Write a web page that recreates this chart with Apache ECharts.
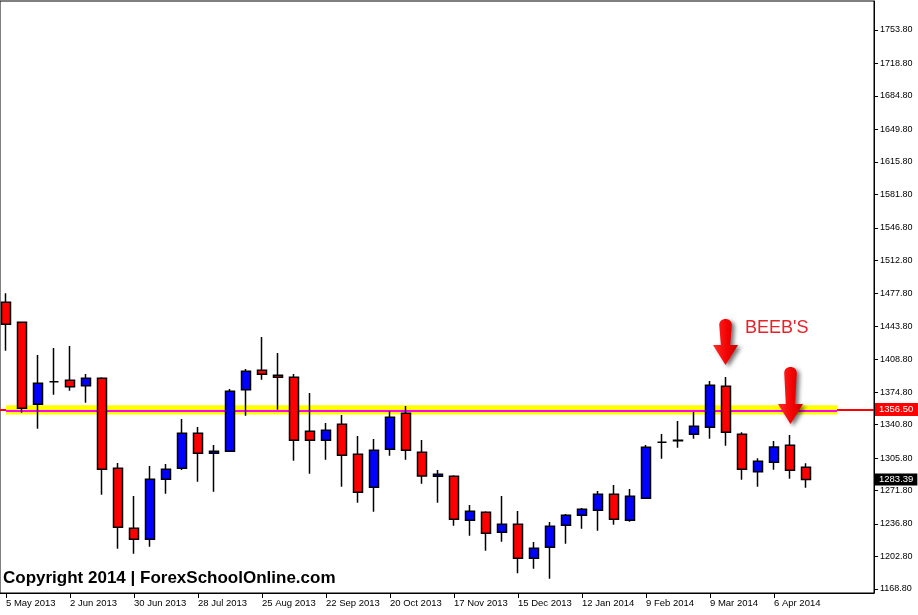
<!DOCTYPE html>
<html><head><meta charset="utf-8">
<script src="https://cdn.jsdelivr.net/npm/echarts@6/dist/echarts.min.js"></script>
<style>html,body{margin:0;padding:0;background:#fff}#c{width:918px;height:615px}</style>
</head><body><div id="c"></div>
<script>
// weekly candles, 5 May 2013 .. 20 Apr 2014 (index = week number)
const opens  = [1468.8,1447.9,1362.1,1385.7,1387.2,1381.6,1389.3,1295.1,1232.3,1220.8,
                1283.6,1295.1,1331.7,1310.8,1312.9,1377.4,1397.7,1392.4,1390.3,1333.8,
                1324.4,1341.2,1309.8,1275.2,1315.0,1352.7,1311.9,1286.7,1286.7,1240.7,
                1249.1,1228.1,1236.5,1200.9,1212.4,1235.5,1245.9,1251.2,1267.9,1240.7,
                1263.7,1322.3,1324.0,1330.7,1338.0,1380.9,1330.7,1291.6,1301.4,1319.2,
                1296.2];
const highs  = [1478.2,1448.5,1413.7,1421.0,1423.1,1393.8,1390.3,1300.7,1266.1,1297.5,
                1299.6,1346.7,1338.3,1319.5,1378.1,1399.0,1432.5,1415.8,1393.8,1373.9,
                1342.5,1350.9,1328.9,1325.8,1355.1,1360.3,1324.7,1293.3,1287.8,1256.7,
                1250.1,1266.1,1250.4,1218.0,1238.9,1247.3,1253.6,1271.4,1277.6,1273.5,
                1319.5,1331.0,1344.6,1354.0,1386.5,1390.7,1332.8,1305.6,1323.7,1330.0,
                1300.3];
const lows   = [1418.2,1353.3,1336.6,1372.1,1376.3,1363.8,1267.5,1211.0,1205.7,1213.1,
                1268.5,1293.3,1281.1,1270.6,1312.5,1350.2,1387.8,1356.4,1303.1,1289.5,
                1304.1,1275.9,1259.1,1249.7,1308.3,1304.1,1279.0,1259.1,1235.0,1224.6,
                1208.9,1218.3,1185.2,1190.0,1179.6,1216.2,1231.9,1229.8,1236.1,1239.2,
                1263.2,1305.2,1316.7,1326.1,1326.1,1318.8,1283.2,1275.9,1293.6,1284.2,
                1274.8];
const closes = [1445.8,1357.9,1384.1,1385.7,1380.5,1389.3,1294.1,1233.4,1220.8,1283.6,
                1294.1,1331.7,1310.8,1312.9,1375.7,1396.6,1393.5,1390.3,1324.4,1324.4,
                1334.9,1308.7,1270.0,1314.0,1348.5,1314.0,1287.1,1288.8,1241.7,1250.1,
                1227.1,1236.5,1200.9,1211.4,1234.4,1245.9,1252.2,1267.9,1241.7,1265.8,
                1317.1,1322.3,1324.5,1339.1,1382.0,1332.8,1294.1,1302.4,1317.4,1293.0,
                1283.39];
const xTickWeeks  = [0,4,8,12,16,20,24,28,32,36,40,44,48];
const xTickLabels = ['5 May 2013','2 Jun 2013','30 Jun 2013','28 Jul 2013','25 Aug 2013','22 Sep 2013',
                     '20 Oct 2013','17 Nov 2013','15 Dec 2013','12 Jan 2014','9 Feb 2014','9 Mar 2014','6 Apr 2014'];
const yTicks = [1168.8,1202.8,1236.8,1271.8,1305.8,1340.8,1374.8,1408.8,1443.8,1477.8,
                1512.8,1546.8,1581.8,1615.8,1649.8,1684.8,1718.8,1753.8];
const levelPrice = 1356.5;
const lastPrice = 1283.39;
const arrowWeeks = [44.97, 49.03];
const arrowPrices = [1427.3, 1371.3];

const candles = opens.map((o, i) => [i, o, closes[i], lows[i], highs[i]]);
const X_MIN = -0.375, X_MAX = 54.25, BAND_END = 51.94;
const arrowPath1 = 'path://M6,6 C6,-2 18,-2 18,6 L16.5,26 L24,26 L12,46 L0,26 L7.5,26 Z';
const arrowPath2 = 'path://M6,6 C6,-2 18,-2 18,6 L16.5,37 L24,37 L12,57 L0,37 L7.5,37 Z';
const FONT = 'Liberation Sans';

const chart = echarts.init(document.getElementById('c'), null, {renderer: 'canvas'});
const arrowStyle = {
  color: new echarts.graphic.LinearGradient(0, 0, 1, 0, [
    {offset: 0, color: '#ff2a2a'}, {offset: 0.6, color: '#f20000'}, {offset: 1, color: '#c00000'}]),
  shadowColor: 'rgba(0,0,0,0.55)', shadowBlur: 4, shadowOffsetX: 3, shadowOffsetY: 2
};
chart.setOption({
  animation: false,
  backgroundColor: '#fff',
  textStyle: {fontFamily: FONT},
  title: [
    {text: "BEEB'S", left: 745, top: 319, padding: 0,
     textStyle: {color: '#e8222a', fontSize: 18, fontWeight: 'normal', fontFamily: FONT}},
    {text: 'Copyright 2014 | ForexSchoolOnline.com', left: 3, top: 570, padding: 0,
     textStyle: {color: '#000', fontSize: 17, fontWeight: 'bold', fontFamily: FONT}}
  ],
  grid: {left: 0, top: 1, right: 44, bottom: 22, show: true, borderColor: '#000', borderWidth: 1, backgroundColor: '#fff'},
  xAxis: {
    type: 'value', min: X_MIN, max: X_MAX,
    splitLine: {show: false},
    axisLine: {show: true, onZero: false, lineStyle: {color: '#000', width: 1}},
    axisTick: {show: true, length: 5, customValues: xTickWeeks, lineStyle: {color: '#000'}},
    axisLabel: {customValues: xTickWeeks, formatter: v => xTickLabels[xTickWeeks.indexOf(v)],
                align: 'left', margin: 5, fontSize: 9.5, color: '#000', fontFamily: FONT}
  },
  yAxis: {
    type: 'value', position: 'right', min: 1164.6, max: 1784.1, scale: true,
    splitLine: {show: false},
    axisLine: {show: true, onZero: false, lineStyle: {color: '#000', width: 1}},
    axisTick: {show: true, length: 4, customValues: yTicks, lineStyle: {color: '#000'}},
    axisLabel: {customValues: yTicks, formatter: v => v.toFixed(2), margin: 6, fontSize: 9, color: '#000', fontFamily: FONT}
  },
  series: [{
    type: 'candlestick',
    data: candles,
    barWidth: 9,
    itemStyle: {color: '#0000ff', color0: '#ff0000', borderColor: '#000', borderColor0: '#000', borderWidth: 1.5},
    markArea: {
      silent: true,
      label: {show: false},
      data: [
        [{xAxis: 0, yAxis: 1351.5, itemStyle: {color: '#ffff00'}}, {xAxis: BAND_END, yAxis: 1361.0}],
        [{xAxis: 0, yAxis: 1354.0, itemStyle: {color: '#ff00ff'}}, {xAxis: BAND_END, yAxis: 1356.1}]
      ]
    },
    markLine: {
      silent: true, symbol: ['none', 'none'],
      data: [
        [{coord: [X_MIN, levelPrice], lineStyle: {color: '#ff0000', width: 2, type: 'solid'}, label: {show: false}},
         {coord: [0, levelPrice]}],
        [{coord: [BAND_END, levelPrice], lineStyle: {color: '#ff0000', width: 2, type: 'solid'},
          label: {show: true, position: 'end', distance: 1, formatter: levelPrice.toFixed(2),
                  backgroundColor: '#ff0000', color: '#fff', padding: [2, 6, 1, 4], fontSize: 9.5, fontFamily: FONT}},
         {coord: [X_MAX, levelPrice]}],
        [{coord: [50.6, lastPrice], lineStyle: {color: 'rgba(0,0,0,0)', width: 1, type: 'solid'},
          label: {show: true, position: 'end', distance: 1, formatter: lastPrice.toFixed(2),
                  backgroundColor: '#000', color: '#fff', padding: [1, 4, 1, 4], fontSize: 9.5, fontFamily: FONT}},
         {coord: [X_MAX, lastPrice]}]
      ]
    },
    markPoint: {
      silent: true,
      label: {show: false},
      symbolKeepAspect: false,
      data: [
        {coord: [arrowWeeks[0], arrowPrices[0]], symbol: arrowPath1, symbolSize: [25, 46], itemStyle: arrowStyle},
        {coord: [arrowWeeks[1], arrowPrices[1]], symbol: arrowPath2, symbolSize: [25, 57], itemStyle: arrowStyle}
      ]
    }
  }]
});
</script>
</body></html>
